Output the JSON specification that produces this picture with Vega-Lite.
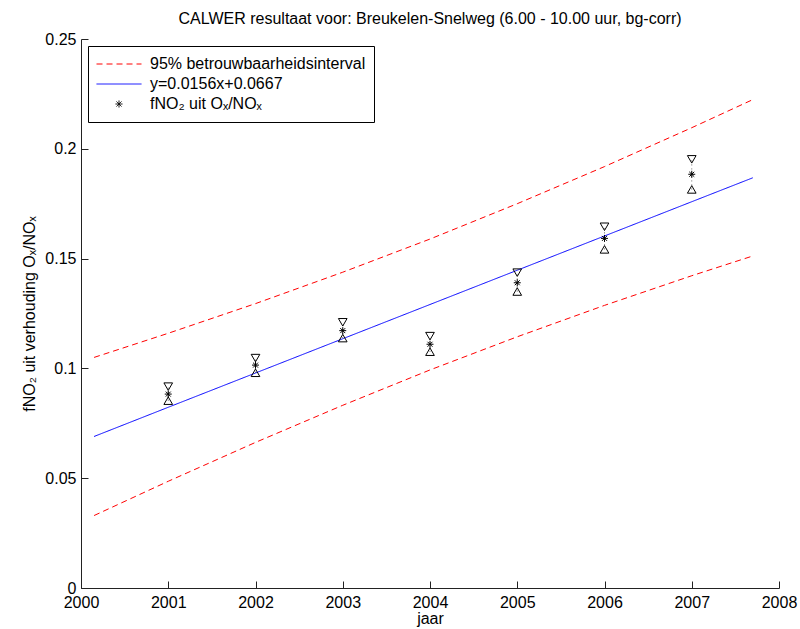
{
  "$schema": "https://vega.github.io/schema/vega-lite/v6.json",
  "width": 698,
  "height": 549,
  "autosize": {"type": "none"},
  "padding": {"left": 81, "top": 39, "right": 21, "bottom": 41},
  "background": "white",
  "config": {
    "font": "Liberation Sans",
    "view": {"stroke": null},
    "axis": {
      "grid": false,
      "domainColor": "#222222",
      "tickColor": "#222222",
      "tickSize": -7,
      "labelFlush": false,
      "labelOverlap": false,
      "labelColor": "black",
      "labelFontSize": 16,
      "labelFont": "Liberation Sans",
      "titleColor": "black",
      "titleFontSize": 16,
      "titleFont": "Liberation Sans",
      "titleFontWeight": "normal"
    },
    "legend": {
      "orient": "top-left",
      "offset": 7,
      "padding": 8,
      "strokeColor": "black",
      "fillColor": "white",
      "cornerRadius": 0,
      "labelFont": "Liberation Sans",
      "labelFontSize": 16,
      "labelColor": "black",
      "labelLimit": 400,
      "labelOffset": 8,
      "symbolSize": 2025,
      "symbolStrokeWidth": 1,
      "symbolType": "stroke",
      "symbolFillColor": "transparent",
      "symbolOpacity": 1,
      "clipHeight": 20,
      "rowPadding": 0
    }
  },
  "title": {
    "text": "CALWER resultaat voor: Breukelen-Snelweg (6.00 - 10.00 uur, bg-corr)",
    "font": "Liberation Sans",
    "fontSize": 16,
    "fontWeight": "normal",
    "color": "black",
    "anchor": "middle",
    "offset": 4
  },
  "datasets": {
    "lijnen": [
      {"jaar": 2000.15, "waarde": 0.1050, "serie": "95% betrouwbaarheidsinterval", "lijn": "boven"},
      {"jaar": 2001, "waarde": 0.1160, "serie": "95% betrouwbaarheidsinterval", "lijn": "boven"},
      {"jaar": 2002, "waarde": 0.1295, "serie": "95% betrouwbaarheidsinterval", "lijn": "boven"},
      {"jaar": 2003, "waarde": 0.1438, "serie": "95% betrouwbaarheidsinterval", "lijn": "boven"},
      {"jaar": 2004, "waarde": 0.1589, "serie": "95% betrouwbaarheidsinterval", "lijn": "boven"},
      {"jaar": 2005, "waarde": 0.1750, "serie": "95% betrouwbaarheidsinterval", "lijn": "boven"},
      {"jaar": 2006, "waarde": 0.1919, "serie": "95% betrouwbaarheidsinterval", "lijn": "boven"},
      {"jaar": 2007, "waarde": 0.2096, "serie": "95% betrouwbaarheidsinterval", "lijn": "boven"},
      {"jaar": 2007.7, "waarde": 0.2224, "serie": "95% betrouwbaarheidsinterval", "lijn": "boven"},
      {"jaar": 2000.15, "waarde": 0.0690, "serie": "y=0.0156x+0.0667", "lijn": "fit"},
      {"jaar": 2001, "waarde": 0.0823, "serie": "y=0.0156x+0.0667", "lijn": "fit"},
      {"jaar": 2002, "waarde": 0.0979, "serie": "y=0.0156x+0.0667", "lijn": "fit"},
      {"jaar": 2003, "waarde": 0.1135, "serie": "y=0.0156x+0.0667", "lijn": "fit"},
      {"jaar": 2004, "waarde": 0.1291, "serie": "y=0.0156x+0.0667", "lijn": "fit"},
      {"jaar": 2005, "waarde": 0.1447, "serie": "y=0.0156x+0.0667", "lijn": "fit"},
      {"jaar": 2006, "waarde": 0.1603, "serie": "y=0.0156x+0.0667", "lijn": "fit"},
      {"jaar": 2007, "waarde": 0.1759, "serie": "y=0.0156x+0.0667", "lijn": "fit"},
      {"jaar": 2007.7, "waarde": 0.1868, "serie": "y=0.0156x+0.0667", "lijn": "fit"},
      {"jaar": 2000.15, "waarde": 0.0330, "serie": "95% betrouwbaarheidsinterval", "lijn": "onder"},
      {"jaar": 2001, "waarde": 0.0486, "serie": "95% betrouwbaarheidsinterval", "lijn": "onder"},
      {"jaar": 2002, "waarde": 0.0663, "serie": "95% betrouwbaarheidsinterval", "lijn": "onder"},
      {"jaar": 2003, "waarde": 0.0832, "serie": "95% betrouwbaarheidsinterval", "lijn": "onder"},
      {"jaar": 2004, "waarde": 0.0993, "serie": "95% betrouwbaarheidsinterval", "lijn": "onder"},
      {"jaar": 2005, "waarde": 0.1144, "serie": "95% betrouwbaarheidsinterval", "lijn": "onder"},
      {"jaar": 2006, "waarde": 0.1287, "serie": "95% betrouwbaarheidsinterval", "lijn": "onder"},
      {"jaar": 2007, "waarde": 0.1422, "serie": "95% betrouwbaarheidsinterval", "lijn": "onder"},
      {"jaar": 2007.7, "waarde": 0.1512, "serie": "95% betrouwbaarheidsinterval", "lijn": "onder"}
    ],
    "metingen": [
      {"jaar": 2001, "waarde": 0.0883, "boven": 0.0917, "onder": 0.0853, "serie": "fNO₂ uit Oₓ/NOₓ"},
      {"jaar": 2002, "waarde": 0.1015, "boven": 0.1047, "onder": 0.0980, "serie": "fNO₂ uit Oₓ/NOₓ"},
      {"jaar": 2003, "waarde": 0.1172, "boven": 0.1210, "onder": 0.1138, "serie": "fNO₂ uit Oₓ/NOₓ"},
      {"jaar": 2004, "waarde": 0.1110, "boven": 0.1147, "onder": 0.1076, "serie": "fNO₂ uit Oₓ/NOₓ"},
      {"jaar": 2005, "waarde": 0.1390, "boven": 0.1436, "onder": 0.1350, "serie": "fNO₂ uit Oₓ/NOₓ"},
      {"jaar": 2006, "waarde": 0.1592, "boven": 0.1645, "onder": 0.1542, "serie": "fNO₂ uit Oₓ/NOₓ"},
      {"jaar": 2007, "waarde": 0.1884, "boven": 0.1952, "onder": 0.1815, "serie": "fNO₂ uit Oₓ/NOₓ"}
    ]
  },
  "layer": [
    {
      "data": {"name": "lijnen"},
      "mark": {"type": "line", "strokeWidth": 1, "opacity": 1},
      "encoding": {
        "x": {
          "field": "jaar", "type": "quantitative",
          "scale": {"domain": [2000, 2008], "nice": false, "zero": false},
          "axis": {"title": "jaar", "values": [2000, 2001, 2002, 2003, 2004, 2005, 2006, 2007, 2008], "format": "d", "labelPadding": 13, "titlePadding": 0}
        },
        "y": {
          "field": "waarde", "type": "quantitative",
          "scale": {"domain": [0, 0.25], "nice": false, "zero": true},
          "axis": {"title": "fNO₂ uit verhouding Oₓ/NOₓ", "values": [0, 0.05, 0.1, 0.15, 0.2, 0.25], "format": "~g", "labelPadding": 12, "titlePadding": 7}
        },
        "detail": {"field": "lijn"},
        "color": {
          "field": "serie", "type": "nominal", "title": null,
          "scale": {
            "domain": ["95% betrouwbaarheidsinterval", "y=0.0156x+0.0667", "fNO₂ uit Oₓ/NOₓ"],
            "range": ["#ff0000", "#0000ff", "#000000"]
          },
          "sort": null
        },
        "strokeDash": {
          "field": "serie", "type": "nominal", "title": null,
          "scale": {
            "domain": ["95% betrouwbaarheidsinterval", "y=0.0156x+0.0667", "fNO₂ uit Oₓ/NOₓ"],
            "range": [[6, 4], [1, 0], [1, 0]]
          },
          "sort": null
        }
      }
    },
    {
      "data": {"name": "metingen"},
      "mark": {"type": "rule", "strokeWidth": 1, "strokeDash": [1, 3], "color": "#666666"},
      "encoding": {
        "x": {"field": "jaar", "type": "quantitative"},
        "y": {"field": "onder", "type": "quantitative"},
        "y2": {"field": "boven"}
      }
    },
    {
      "data": {"name": "metingen"},
      "mark": {"type": "point", "shape": "triangle-down", "filled": false, "color": "black", "size": 75, "strokeWidth": 1, "opacity": 1},
      "encoding": {
        "x": {"field": "jaar", "type": "quantitative"},
        "y": {"field": "boven", "type": "quantitative"}
      }
    },
    {
      "data": {"name": "metingen"},
      "mark": {"type": "point", "shape": "triangle-up", "filled": false, "color": "black", "size": 75, "strokeWidth": 1, "opacity": 1},
      "encoding": {
        "x": {"field": "jaar", "type": "quantitative"},
        "y": {"field": "onder", "type": "quantitative"}
      }
    },
    {
      "data": {"name": "metingen"},
      "mark": {"type": "point", "filled": false, "size": 2025, "strokeWidth": 1, "opacity": 1},
      "encoding": {
        "x": {"field": "jaar", "type": "quantitative"},
        "y": {"field": "waarde", "type": "quantitative"},
        "color": {"field": "serie", "type": "nominal", "title": null},
        "shape": {
          "field": "serie", "type": "nominal", "title": null,
          "scale": {
            "domain": ["95% betrouwbaarheidsinterval", "y=0.0156x+0.0667", "fNO₂ uit Oₓ/NOₓ"],
            "range": ["stroke", "stroke", "M-0.155,0L0.155,0M0,-0.155L0,0.155M-0.11,-0.11L0.11,0.11M-0.11,0.11L0.11,-0.11"]
          },
          "sort": null
        }
      }
    }
  ]
}
